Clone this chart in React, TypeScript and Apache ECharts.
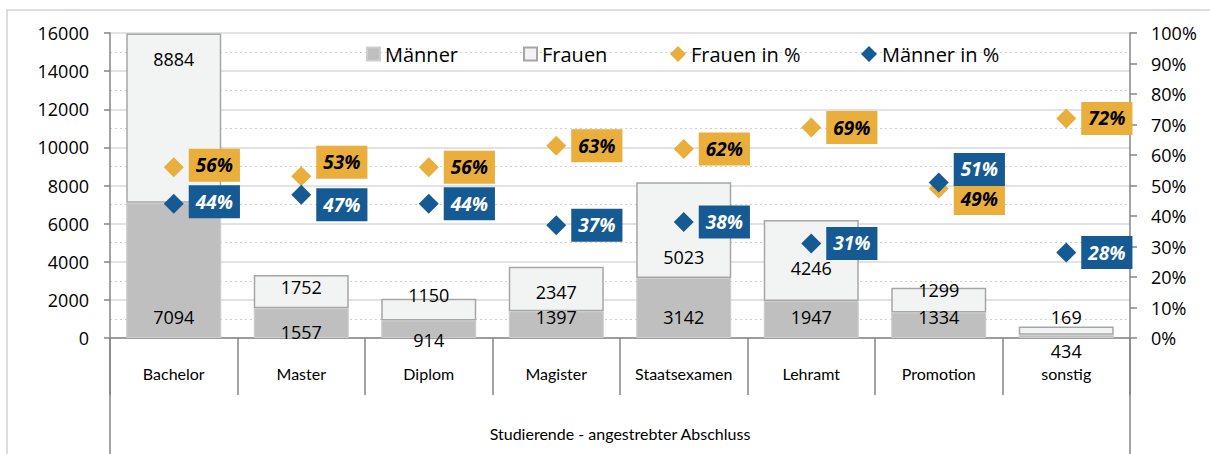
import React, { useEffect, useRef } from "react";
import * as echarts from "echarts";

// ---- data ----
const categories = ["Bachelor", "Master", "Diplom", "Magister", "Staatsexamen", "Lehramt", "Promotion", "sonstig"];
const maenner = [7094, 1557, 914, 1397, 3142, 1947, 1334, 169];
const frauen = [8884, 1752, 1150, 2347, 5023, 4246, 1299, 434];
const frauenPct = [56, 53, 56, 63, 62, 69, 49, 72];
const maennerPct = [44, 47, 44, 37, 38, 31, 51, 28];

// axis scales
const leftMax = 16000;
const leftStep = 2000;
const rightMax = 100;
const rightStep = 10;
const axisTitle = "Studierende - angestrebter Abschluss";

// ---- label fine positioning (style only) ----
const maennerLabelDy = [0, 15, 23, 0, 0, 0, 0, 0];
const frauenLabelDy = [12, -2, -18, 11, 61, 34, -12, 10];
const frauenPctDy = [-2, -14, 0, 0, 0, 0, 10, 0];
const maennerPctDy = [-2, 10, 0, 0, 0, 0, -13, 0];

const ORANGE = "#e9ae3c";
const BLUE = "#165a94";
const AXIS = "#868686";
const NUM_FONT = "Open Sans";
const CAT_FONT = "Lato";

export default function App() {
  const ref = useRef<HTMLDivElement>(null);

  useEffect(() => {
    if (!ref.current) return;
    const chart = echarts.init(ref.current, undefined, { renderer: "svg" });

    const pctLabel = (bg: string, fg: string) => ({
      show: true,
      position: "right" as const,
      distance: 5,
      formatter: (p: any) => `${p.value}%`,
      backgroundColor: bg,
      color: fg,
      fontFamily: NUM_FONT,
      fontWeight: "bold" as const,
      fontStyle: "italic" as const,
      fontSize: 19,
      padding: [7, 7, 7, 7],
    });

    const legendBase = {
      top: 44,
      itemGap: 0,
      padding: 0,
      textStyle: { fontFamily: NUM_FONT, fontSize: 20, color: "#000" },
    };

    chart.setOption({
      animation: false,
      backgroundColor: "#ffffff",
      grid: { left: 110, right: 80, top: 33, bottom: 116, containLabel: false },
      legend: [
        { ...legendBase, data: [{ name: "Männer", icon: "rect" }], left: 366, itemWidth: 13, itemHeight: 13 },
        { ...legendBase, data: [{ name: "Frauen", icon: "rect" }], left: 523, itemWidth: 13, itemHeight: 13 },
        { ...legendBase, data: [{ name: "Frauen in %", icon: "diamond" }], left: 670, itemWidth: 16, itemHeight: 16 },
        { ...legendBase, data: [{ name: "Männer in %", icon: "diamond" }], left: 861, itemWidth: 16, itemHeight: 16 },
      ],
      xAxis: {
        type: "category",
        data: categories,
        axisLine: { show: true, lineStyle: { color: AXIS, width: 1.5 } },
        axisTick: { show: true, interval: 0, length: 57, lineStyle: { color: AXIS, width: 1.5 } },
        axisLabel: { interval: 0, fontFamily: CAT_FONT, fontSize: 16, color: "#000", margin: 27 },
        name: axisTitle,
        nameLocation: "middle",
        nameGap: 87,
        nameTextStyle: { fontFamily: CAT_FONT, fontSize: 16, color: "#000" },
      },
      yAxis: [
        {
          type: "value",
          min: 0,
          max: leftMax,
          interval: leftStep,
          position: "left",
          axisLine: { show: true, lineStyle: { color: AXIS, width: 1.5 } },
          axisTick: { show: true, length: 6, lineStyle: { color: AXIS, width: 1.5 } },
          axisLabel: {
            fontFamily: NUM_FONT,
            fontSize: 18,
            color: "#000",
            margin: 21,
            formatter: (v: number) => String(v),
          },
          splitLine: { show: true, lineStyle: { color: "#d9d9d9", width: 1.5 } },
          minorTick: { show: false, splitNumber: 2 },
          minorSplitLine: { show: true, lineStyle: { color: "#cfcfcf", width: 1, type: [2, 3] } },
        },
        {
          type: "value",
          min: 0,
          max: rightMax,
          interval: rightStep,
          position: "right",
          axisLine: { show: true, lineStyle: { color: AXIS, width: 1.5 } },
          axisTick: { show: true, length: 7, lineStyle: { color: AXIS, width: 1.5 } },
          axisLabel: { fontFamily: NUM_FONT, fontSize: 18, color: "#000", margin: 21, formatter: "{value}%" },
          splitLine: { show: false },
        },
      ],
      series: [
        {
          name: "Männer",
          type: "bar",
          stack: "total",
          barWidth: 95,
          itemStyle: { color: "#bfbfbf", borderColor: "#cdcdcd", borderWidth: 1 },
          label: {
            show: true,
            position: "insideBottom",
            distance: 12,
            fontFamily: NUM_FONT,
            fontSize: 18,
            color: "#000",
          },
          data: maenner.map((v, i) => ({ value: v, label: { offset: [0, maennerLabelDy[i]] } })),
          z: 2,
        },
        {
          name: "Frauen",
          type: "bar",
          stack: "total",
          barWidth: 95,
          itemStyle: { color: "#f2f3f3", borderColor: "#a6a6a6", borderWidth: 1.5 },
          label: {
            show: true,
            position: "insideTop",
            distance: 5,
            fontFamily: NUM_FONT,
            fontSize: 18,
            color: "#000",
          },
          data: frauen.map((v, i) => ({ value: v, label: { offset: [0, frauenLabelDy[i]] } })),
          z: 2,
        },
        {
          name: "Frauen in %",
          type: "scatter",
          yAxisIndex: 1,
          symbol: "diamond",
          symbolSize: 20,
          itemStyle: { color: ORANGE, opacity: 1 },
          label: pctLabel(ORANGE, "#000"),
          data: frauenPct.map((v, i) => ({ value: v, label: { offset: [0, frauenPctDy[i]] } })),
          z: 5,
        },
        {
          name: "Männer in %",
          type: "scatter",
          yAxisIndex: 1,
          symbol: "diamond",
          symbolSize: 20,
          itemStyle: { color: BLUE, opacity: 1 },
          label: pctLabel(BLUE, "#fff"),
          data: maennerPct.map((v, i) => ({ value: v, label: { offset: [0, maennerPctDy[i]] } })),
          z: 6,
        },
      ],
      graphic: [
        {
          type: "rect",
          shape: { x: 7, y: 10, width: 1300, height: 600 },
          style: { fill: "none", stroke: "#d4d4d4", lineWidth: 1.5 },
          silent: true,
          z: -1,
        },
        {
          type: "line",
          shape: { x1: 110, y1: 338, x2: 110, y2: 460 },
          style: { stroke: AXIS, lineWidth: 1.5 },
          silent: true,
        },
        {
          type: "line",
          shape: { x1: 1130, y1: 338, x2: 1130, y2: 460 },
          style: { stroke: AXIS, lineWidth: 1.5 },
          silent: true,
        },
      ],
    });

    return () => chart.dispose();
  }, []);

  return (
    <div
      ref={ref}
      style={{ position: "fixed", left: 0, top: 0, width: 1210, height: 454, background: "#fff" }}
    />
  );
}
